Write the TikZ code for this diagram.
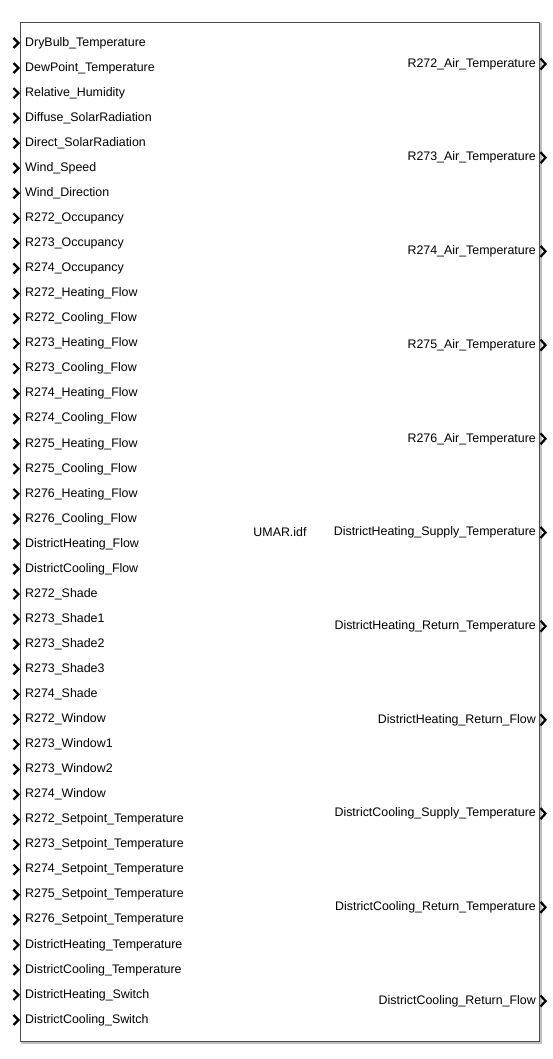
\documentclass[tikz,border=0pt]{standalone}
\usepackage{fontspec}
\setmainfont{Liberation Sans}
\usetikzlibrary{positioning}

\begin{document}
\begin{tikzpicture}[x=1pt, y=-1pt,
    nodes = {inner sep=0pt, font=\fontsize{12.4}{14}\selectfont},
    port/.style = {line width=2.2pt, line join=miter}]
    \useasboundingbox (0,0) rectangle (553,1059);
    % shadow and block
    \draw[black!25, line width=2pt] (22,24) rectangle (541,1043);
    \node (block) [draw=black!70, line width=1.2pt, fill=white, anchor=north west,
        minimum width=519pt, minimum height=1019pt] at (20,22) {};
    \node (umar) at (280,532) {UMAR.idf};
    % inputs
    \foreach \lbl [count=\i] in {DryBulb\_Temperature, DewPoint\_Temperature,
        Relative\_Humidity, Diffuse\_SolarRadiation, Direct\_SolarRadiation,
        Wind\_Speed, Wind\_Direction, R272\_Occupancy, R273\_Occupancy,
        R274\_Occupancy, R272\_Heating\_Flow, R272\_Cooling\_Flow,
        R273\_Heating\_Flow, R273\_Cooling\_Flow, R274\_Heating\_Flow,
        R274\_Cooling\_Flow, R275\_Heating\_Flow, R275\_Cooling\_Flow,
        R276\_Heating\_Flow, R276\_Cooling\_Flow, DistrictHeating\_Flow,
        DistrictCooling\_Flow, R272\_Shade, R273\_Shade1, R273\_Shade2,
        R273\_Shade3, R274\_Shade, R272\_Window, R273\_Window1, R273\_Window2,
        R274\_Window, R272\_Setpoint\_Temperature, R273\_Setpoint\_Temperature,
        R274\_Setpoint\_Temperature, R275\_Setpoint\_Temperature,
        R276\_Setpoint\_Temperature, DistrictHeating\_Temperature,
        DistrictCooling\_Temperature, DistrictHeating\_Switch,
        DistrictCooling\_Switch} {
        \coordinate (pin\i) at (20, 43+25.05*\i-25.05);
        \node (in\i) [anchor=west, right=5pt of pin\i] {\lbl};
        \draw[port] ([shift={(-6.5,-5)}]pin\i) -- ([shift={(-1.5,0)}]pin\i)
            -- ([shift={(-6.5,5)}]pin\i);
    }
    % outputs
    \foreach \lbl [count=\i] in {R272\_Air\_Temperature, R273\_Air\_Temperature,
        R274\_Air\_Temperature, R275\_Air\_Temperature, R276\_Air\_Temperature,
        DistrictHeating\_Supply\_Temperature, DistrictHeating\_Return\_Temperature,
        DistrictHeating\_Return\_Flow, DistrictCooling\_Supply\_Temperature,
        DistrictCooling\_Return\_Temperature, DistrictCooling\_Return\_Flow} {
        \coordinate (pout\i) at (539, 64+93.7*\i-93.7);
        \node (out\i) [anchor=east, left=3pt of pout\i] {\lbl};
        \draw[port] ([shift={(1.5,-5.5)}]pout\i) -- ([shift={(6.5,0)}]pout\i)
            -- ([shift={(1.5,5.5)}]pout\i);
    }
\end{tikzpicture}
\end{document}
